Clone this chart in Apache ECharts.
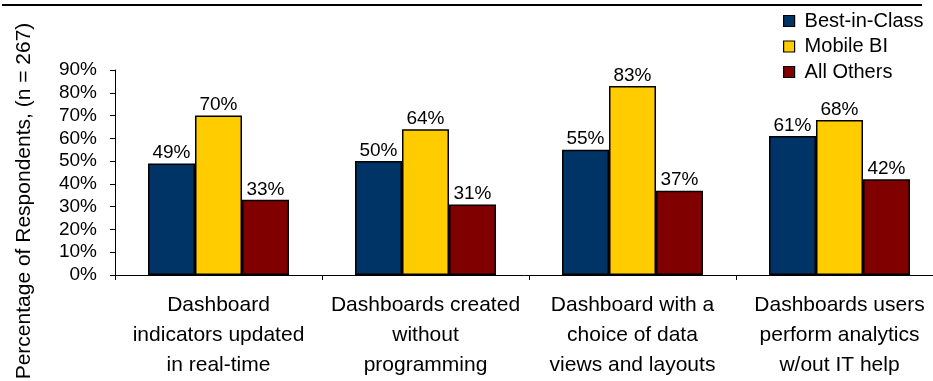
<!DOCTYPE html>
<html>
<head>
<meta charset="utf-8">
<script src="https://cdn.jsdelivr.net/npm/echarts@6/dist/echarts.min.js"></script>
<style>
  html, body { margin: 0; padding: 0; background: #fff; }
  #chart { width: 933px; height: 381px; }
</style>
</head>
<body>
<div id="chart"></div>
<script>
// Survey categories (x axis)
const categories = [
  'Dashboard\nindicators updated\nin real-time',
  'Dashboards created\nwithout\nprogramming',
  'Dashboard with a\nchoice of data\nviews and layouts',
  'Dashboards users\nperform analytics\nw/out IT help'
];

// Share of respondents per group, in percent
const bestInClass = [49, 50, 55, 61];
const mobileBI = [70, 64, 83, 68];
const allOthers = [33, 31, 37, 42];

const seriesNames = ['Best-in-Class', 'Mobile BI', 'All Others'];
const seriesColors = ['#003366', '#FFCC00', '#800000'];

const yTicks = { min: 0, max: 90, interval: 10 };
const yTitle = 'Percentage of Respondents, (n = 267)';

const font = '"Liberation Sans", Arial, sans-serif';

const chart = echarts.init(document.getElementById('chart'), null, { renderer: 'canvas' });

function barSeries(name, data, color) {
  return {
    name: name,
    type: 'bar',
    data: data,
    barWidth: 47,
    barGap: '0%',
    itemStyle: { color: color, borderColor: '#000', borderWidth: 1.5 },
    label: {
      show: true,
      position: 'top',
      distance: 1,
      formatter: '{c}%',
      color: '#000',
      fontFamily: font,
      fontSize: 19
    }
  };
}

chart.setOption({
  animation: false,
  backgroundColor: '#fff',
  // The category axis runs on past the right edge of the canvas
  grid: { left: 115, right: -10, top: 70, bottom: 106, containLabel: false, outerBoundsMode: 'none' },
  legend: {
    orient: 'vertical',
    left: 778,
    top: 6,
    itemGap: 5.5,
    itemWidth: 11,
    itemHeight: 11,
    icon: 'rect',
    data: seriesNames,
    textStyle: { color: '#000', fontFamily: font, fontSize: 20, padding: [0, 0, 0, 5] },
    itemStyle: { borderColor: '#000', borderWidth: 1.2 }
  },
  xAxis: {
    type: 'category',
    data: categories,
    axisLine: { show: true, lineStyle: { color: '#000', width: 1 } },
    axisTick: { show: true, alignWithLabel: false, length: 5, lineStyle: { color: '#000' } },
    axisLabel: {
      interval: 0,
      margin: 15,
      color: '#000',
      fontFamily: font,
      fontSize: 21,
      lineHeight: 30,
      align: 'center'
    },
    splitLine: { show: false }
  },
  yAxis: {
    type: 'value',
    min: yTicks.min,
    max: yTicks.max,
    interval: yTicks.interval,
    axisLine: { show: true, lineStyle: { color: '#000', width: 1 } },
    axisTick: { show: true, length: 5, lineStyle: { color: '#000' } },
    axisLabel: {
      formatter: '{value}%',
      margin: 18,
      color: '#000',
      fontFamily: font,
      fontSize: 19
    },
    splitLine: { show: false }
  },
  graphic: [
    {
      type: 'line',
      shape: { x1: 2, y1: 5, x2: 922, y2: 5 },
      style: { stroke: '#000', lineWidth: 2 }
    },
    {
      type: 'text',
      x: 24,
      y: 201,
      rotation: Math.PI / 2,
      style: {
        text: yTitle,
        fill: '#000',
        font: '21px ' + font,
        textAlign: 'center',
        textVerticalAlign: 'middle'
      }
    }
  ],
  series: [
    barSeries(seriesNames[0], bestInClass, seriesColors[0]),
    barSeries(seriesNames[1], mobileBI, seriesColors[1]),
    barSeries(seriesNames[2], allOthers, seriesColors[2])
  ]
});
</script>
</body>
</html>
